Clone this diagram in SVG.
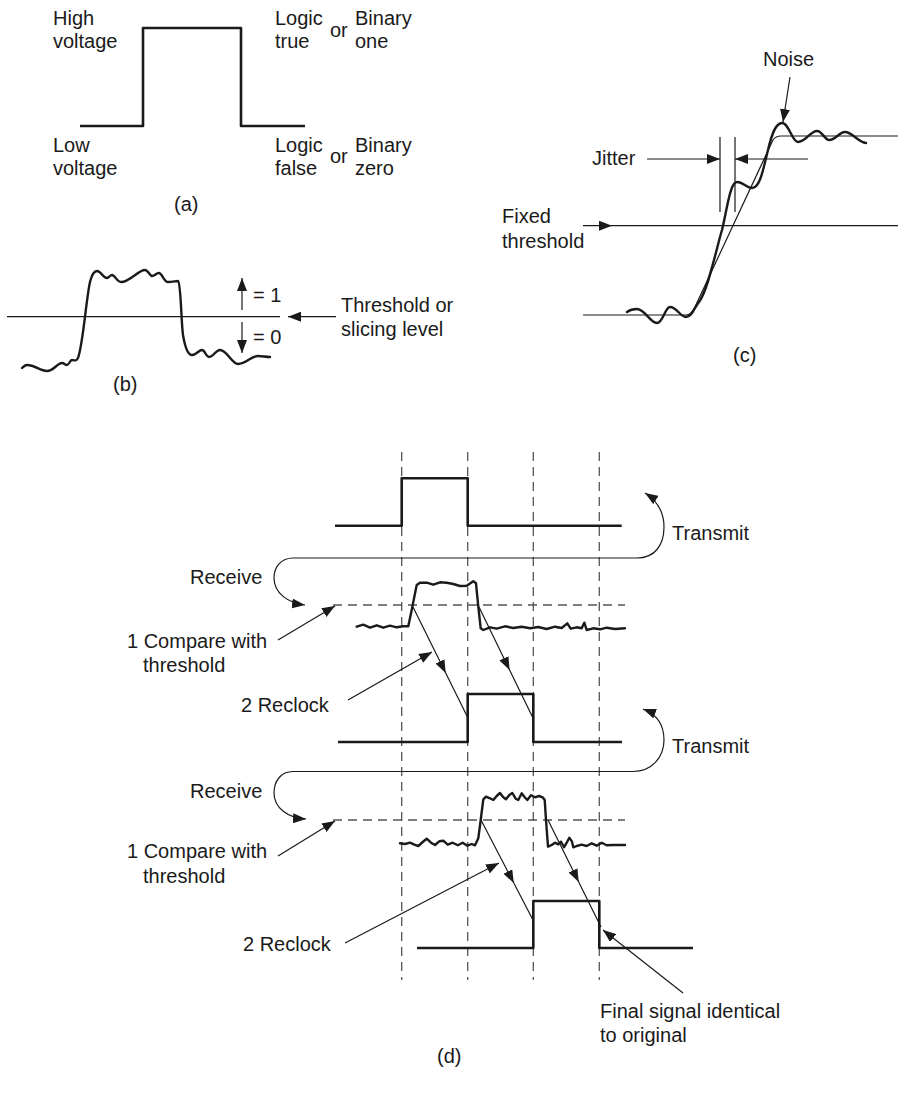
<svg xmlns="http://www.w3.org/2000/svg" width="899" height="1102" viewBox="0 0 899 1102">
<defs>
<marker id="ah" markerUnits="userSpaceOnUse" markerWidth="14" markerHeight="10" refX="13" refY="5" orient="auto"><path d="M0,0 L13,5 L0,10 z" fill="#1a1a1a"/></marker>
<style>
text{font-family:"Liberation Sans",Arial,sans-serif;font-size:20px;fill:#1a1a1a}
.thick{fill:none;stroke:#1a1a1a;stroke-width:2.6;stroke-linejoin:round;stroke-linecap:butt}
.wave{fill:none;stroke:#1a1a1a;stroke-width:2.4;stroke-linejoin:round;stroke-linecap:round}
.thin{fill:none;stroke:#1a1a1a;stroke-width:1.2}
.dash{fill:none;stroke:#555;stroke-width:1.3;stroke-dasharray:9 6}
.arr{fill:none;stroke:#1a1a1a;stroke-width:1.2;marker-end:url(#ah)}
.mid{fill:none;stroke:#1a1a1a;stroke-width:1.2;marker-mid:url(#ah)}
</style>
</defs>

<g id="panel-a">
<path class="thick" d="M80,126 H143 V28 H241 V126 H305"/>
<text x="53" y="25">High</text><text x="53" y="48">voltage</text>
<text x="53" y="152">Low</text><text x="53" y="175">voltage</text>
<text x="275" y="25">Logic</text><text x="275" y="48">true</text>
<text x="330" y="37">or</text>
<text x="355" y="25">Binary</text><text x="355" y="48">one</text>
<text x="275" y="152">Logic</text><text x="275" y="175">false</text>
<text x="330" y="163">or</text>
<text x="355" y="152">Binary</text><text x="355" y="175">zero</text>
<text x="174" y="211">(a)</text>
</g>

<g id="panel-b">
<line class="thin" x1="7" y1="316.7" x2="280" y2="316.7"/>
<path class="wave" d="M22,368 C24,366 25,365 27,365 C35,365 40,371 47,371 C54,371 57,363 62,363 C64,363 65,365 67,365 C69,365 70,360 72,360 C75,360 76,362 78,358 C83,345 86,300 90,282 C92,274 94,271 97,271 C101,271 103,278 107,278 C109,278 110,275 112,275 C115,275 117,282 121,282 C130,282 138,270 145,270 C148,270 150,276 152,276 C155,276 156,273 159,273 C162,273 164,282 168,282 C172,282 176,281 178,281 C181,283 181,320 183,335 C185,347 188,355 192,355 C196,355 199,350 202,350 C205,350 206,357 209,357 C213,357 216,350 220,350 C227,350 232,364 238,364 C246,364 251,356 258,356 C262,356 266,357 270,357"/>
<text x="253" y="302">= 1</text>
<text x="253" y="344">= 0</text>
<text x="341" y="312">Threshold or</text>
<text x="341" y="336">slicing level</text>
<text x="113" y="391">(b)</text>
</g>

<g id="panel-c">
<path class="thin" d="M583,315 H686 C690,315 692,313 694,309 L773,140 C775,137 777,136 781,136 H898"/>
<path class="mid" d="M583,225.7 L612,225.7 L898,225.7"/>
<line class="thin" x1="720" y1="137" x2="720" y2="212"/>
<line class="thin" x1="735" y1="137" x2="735" y2="212"/>
<path class="wave" d="M627,312 C631,309 634,309 637,309 C645,309 650,323 657,323 C663,323 665,307 670,307 C677,307 680,317 686,317 C692,317 694,308 699,302 C708,290 716,250 722,230 C727,210 730,182 737,182 C743,182 747,188 752,188 C760,188 763,170 768,150 C772,133 776,123 782,123 C789,123 792,142 798,142 C806,142 810,131 817,131 C822,131 825,140 829,140 C836,140 839,132 845,132 C852,132 858,142 866,143"/>
<text x="763" y="66">Noise</text>
<text x="592" y="165">Jitter</text>
<text x="502" y="223">Fixed</text>
<text x="502" y="248">threshold</text>
<text x="733" y="362">(c)</text>
</g>

<g id="panel-d">
<line class="dash" x1="401.7" y1="452" x2="401.7" y2="980"/>
<line class="dash" x1="467.7" y1="452" x2="467.7" y2="980"/>
<line class="dash" x1="533.3" y1="452" x2="533.3" y2="980"/>
<line class="dash" x1="599.3" y1="452" x2="599.3" y2="980"/>
<line class="dash" x1="333" y1="605" x2="625" y2="605"/>
<line class="dash" x1="333" y1="820" x2="625" y2="820"/>
<path class="thick" d="M335,525.7 H401.7 V478.3 H467.7 V525.7 H621.7"/>
<path class="thick" d="M338,742 H467.7 V694 H533.3 V742 H622"/>
<path class="thick" d="M417,948 H533.3 V901 H599.3 V948 H693"/>
<polyline class="wave" points="356.7,626.7 363.3,624.7 370,627.7 376.7,625.3 383.3,627.7 390,625.7 396.7,627.3 403.3,626.3 408.3,626.3 411.7,610 416.7,585 420,582.7 426.7,582.7 433.3,584.7 440,582.3 446.7,582.7 453.3,584 460,586 466.7,585.7 473.3,581.3 476,583.3 478.3,606.7 480.7,628.3 483.3,630 490,627.3 496.7,628.7 505,626.3 513.3,628 521.7,626.7 530,628.3 538.3,627 546.7,629 555,626.7 561.7,628 567.3,623.3 570.7,628.7 576.7,627.3 581.7,628.3 584.3,622.7 586.7,630 593.3,628.3 600,629.3 606.7,627.7 615,629 625,628.3"/>
<polyline class="wave" points="400,843.3 405,844 410,842.7 414.3,844.7 418.3,846 422.7,842 426.7,838.7 431,842.7 435,845 439.3,841.3 443.3,840.7 447.7,844.7 452.7,842.7 457.7,845.3 462.7,842.7 467.3,845.7 471.7,844 475,845.3 478.3,838.3 480.7,820 483.3,799.3 486,796.7 490,798.3 493.3,800 496.7,796 500,793 503.3,797.3 506,799.3 509.3,795 512.3,793 515.7,798.7 518.3,800 521.7,793.3 524.3,796.7 527.3,800 531,795.3 535,797.3 539,796 542.7,797.3 544.7,800 546,820 548,846.7 551.7,845 555,842.7 558.3,844.3 561,841.7 564,847.3 566.7,842.7 569.3,837.7 572,841.7 573.3,847.3 576.7,846 581.7,844.7 586.7,846 591.7,843.3 596.7,845.7 601.7,842.7 606.7,845.3 613.3,845 625,845"/>
<line class="thin" x1="293" y1="558" x2="637" y2="558"/>
<line class="thin" x1="293" y1="771.5" x2="633" y2="771.5"/>
<text x="672" y="540">Transmit</text>
<text x="672" y="753">Transmit</text>
<text x="190" y="584">Receive</text>
<text x="190" y="798">Receive</text>
<text x="127" y="648">1 Compare with</text>
<text x="143" y="672">threshold</text>
<text x="127" y="858">1 Compare with</text>
<text x="143" y="883">threshold</text>
<text x="241" y="712">2 Reclock</text>
<text x="243" y="951">2 Reclock</text>
<text x="600" y="1018">Final signal identical</text>
<text x="600" y="1042">to original</text>
<text x="437" y="1063">(d)</text>
</g>

<g id="connectors">
<line class="arr" x1="242" y1="310" x2="242" y2="278"/>
<line class="arr" x1="242" y1="322" x2="242" y2="353"/>
<line class="arr" x1="336" y1="316.7" x2="288" y2="316.7"/>
<line class="arr" x1="647" y1="159" x2="720" y2="159"/>
<line class="arr" x1="808" y1="159" x2="735" y2="159"/>
<line class="arr" x1="790" y1="77" x2="783" y2="122"/>
<path class="arr" d="M637,558 C655,558 664,545 664,527 C664,511 656,500 645,493"/>
<path class="arr" d="M633,771.5 C652,771.5 664,757 664,740 C664,724 656,714 643,709"/>
<path class="arr" d="M293,558 C281,558 274,567 274,578 C274,593 288,603 305,605"/>
<path class="arr" d="M293,771.5 C281,771.5 274,781 274,793 C274,808 288,818 306,819"/>
<line class="arr" x1="278" y1="640" x2="335" y2="606"/>
<line class="arr" x1="278" y1="856" x2="335" y2="821"/>
<line class="arr" x1="348" y1="700" x2="432" y2="652"/>
<line class="arr" x1="345" y1="943" x2="499" y2="863"/>
<path class="mid" d="M413,607 L445.7,673 L468,718"/>
<path class="mid" d="M479,607 L509.6,670 L533,718"/>
<path class="mid" d="M481,820 L513.8,883 L533,920"/>
<path class="mid" d="M548,820 L578.7,882 L601,927"/>
<line class="arr" x1="683" y1="993" x2="603" y2="930"/>
</g>
</svg>
